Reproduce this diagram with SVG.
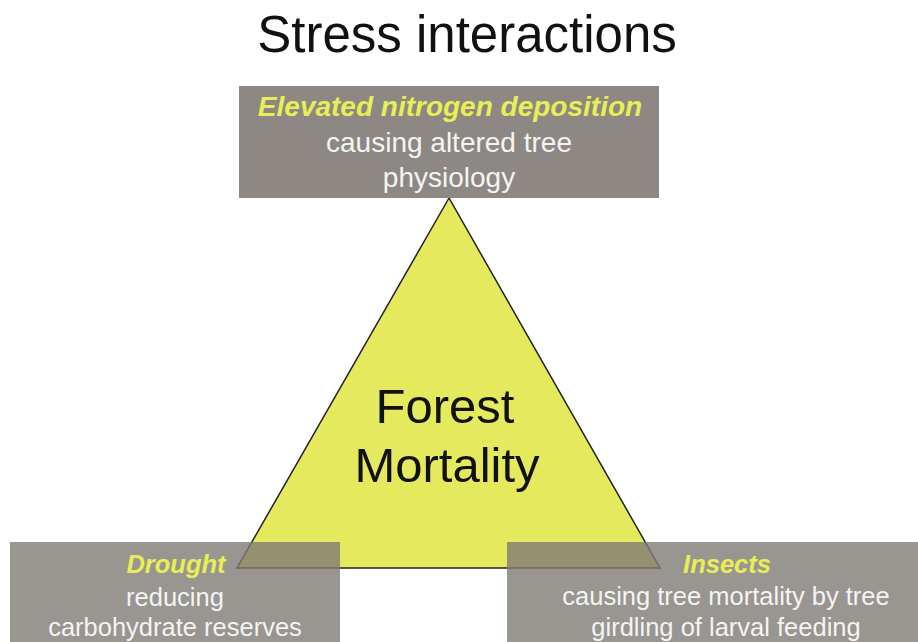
<svg xmlns="http://www.w3.org/2000/svg" width="918" height="642" viewBox="0 0 918 642">
<style>
text{font-family:"Liberation Sans",Arial,sans-serif;text-anchor:middle}
.title{font-size:51px;fill:#111}
.center{font-size:49px;fill:#111}
.head{font-weight:bold;font-style:italic;fill:#e8ee55}
.body{fill:#f4f4f2}
.top{font-size:28px}
.bot{font-size:25.5px}
.box{fill:#7f7a76;fill-opacity:0.8}
</style>
<rect width="918" height="642" fill="#fff"/>
<text class="title" x="467" y="52">Stress interactions</text>
<g id="triangle">
<polygon points="449,198 237,568 660,568" fill="#e4e95e" stroke="#222" stroke-width="1.5"/>
<text class="center" x="445" y="423">Forest</text>
<text class="center" x="447" y="482">Mortality</text>
</g>
<g id="nitrogen">
<rect x="239" y="86" width="420" height="112" style="fill:#8d8884"/>
<text class="head top" x="450" y="116">Elevated nitrogen deposition</text>
<text class="body top" x="449" y="152">causing altered tree</text>
<text class="body top" x="449" y="187">physiology</text>
</g>
<g id="drought">
<rect class="box" x="10" y="542" width="330" height="100"/>
<text class="head bot" x="176" y="573">Drought</text>
<text class="body bot" x="175" y="606">reducing</text>
<text class="body bot" x="175" y="636">carbohydrate reserves</text>
</g>
<g id="insects">
<rect class="box" x="507" y="542" width="411" height="100"/>
<text class="head bot" x="727" y="573">Insects</text>
<text class="body bot" x="726" y="605">causing tree mortality by tree</text>
<text class="body bot" x="726" y="636">girdling of larval feeding</text>
</g>
<g id="connectors"></g>
</svg>
